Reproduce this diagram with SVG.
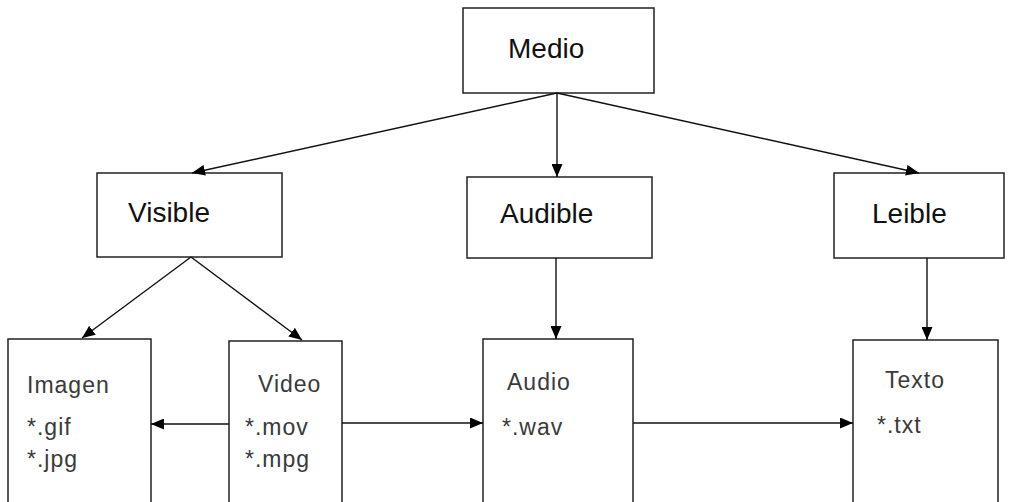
<svg xmlns="http://www.w3.org/2000/svg" width="1009" height="502" viewBox="0 0 1009 502">
  <style>
    .box { fill: #ffffff; stroke: #222222; stroke-width: 1.5; }
    .head { font-family: "Liberation Sans", Arial, sans-serif; font-size: 28px; fill: #111111; }
    .leaf { font-family: "Liberation Sans", Arial, sans-serif; font-size: 23px; fill: #3a3a3a; letter-spacing: 1px; }
    .link { fill: none; stroke: #111111; stroke-width: 1.4; marker-end: url(#arrow); }
  </style>
  <defs>
    <marker id="arrow" viewBox="0 0 13 11" refX="13" refY="5.5" markerWidth="13" markerHeight="11" markerUnits="userSpaceOnUse" orient="auto">
      <path d="M0,0 L13,5.5 L0,11 Z" fill="#000000"/>
    </marker>
  </defs>
  <rect width="1009" height="502" fill="#ffffff"/>

  <g id="medio">
    <rect class="box" x="463" y="8" width="191" height="85"/>
    <text class="head" x="508" y="58">Medio</text>
  </g>
  <g id="visible">
    <rect class="box" x="97" y="173" width="185" height="84"/>
    <text class="head" x="128" y="222">Visible</text>
  </g>
  <g id="audible">
    <rect class="box" x="467" y="177" width="185" height="81"/>
    <text class="head" x="500" y="223">Audible</text>
  </g>
  <g id="leible">
    <rect class="box" x="834" y="173" width="170" height="85"/>
    <text class="head" x="872" y="223">Leible</text>
  </g>
  <g id="imagen">
    <rect class="box" x="8" y="339" width="143" height="175"/>
    <text class="leaf" x="27" y="393">Imagen</text>
    <text class="leaf" x="27" y="435">*.gif</text>
    <text class="leaf" x="27" y="467">*.jpg</text>
  </g>
  <g id="video">
    <rect class="box" x="229" y="341" width="113" height="175"/>
    <text class="leaf" x="258" y="392">Video</text>
    <text class="leaf" x="245" y="435">*.mov</text>
    <text class="leaf" x="245" y="467">*.mpg</text>
  </g>
  <g id="audio">
    <rect class="box" x="483" y="339" width="150" height="175"/>
    <text class="leaf" x="507" y="390">Audio</text>
    <text class="leaf" x="502" y="435">*.wav</text>
  </g>
  <g id="texto">
    <rect class="box" x="853" y="340" width="145" height="175"/>
    <text class="leaf" x="885" y="388">Texto</text>
    <text class="leaf" x="877" y="433">*.txt</text>
  </g>

  <g id="connectors">
    <line class="link" x1="557" y1="93" x2="192" y2="173"/>
    <line class="link" x1="557" y1="93" x2="557" y2="177"/>
    <line class="link" x1="557" y1="93" x2="919" y2="173"/>
    <line class="link" x1="191" y1="257" x2="82" y2="338"/>
    <line class="link" x1="191" y1="257" x2="302" y2="340"/>
    <line class="link" x1="556" y1="258" x2="556" y2="339"/>
    <line class="link" x1="927" y1="258" x2="927" y2="340"/>
    <line class="link" x1="229" y1="424" x2="151" y2="424"/>
    <line class="link" x1="342" y1="423" x2="483" y2="423"/>
    <line class="link" x1="633" y1="423" x2="853" y2="423"/>
  </g>
</svg>
